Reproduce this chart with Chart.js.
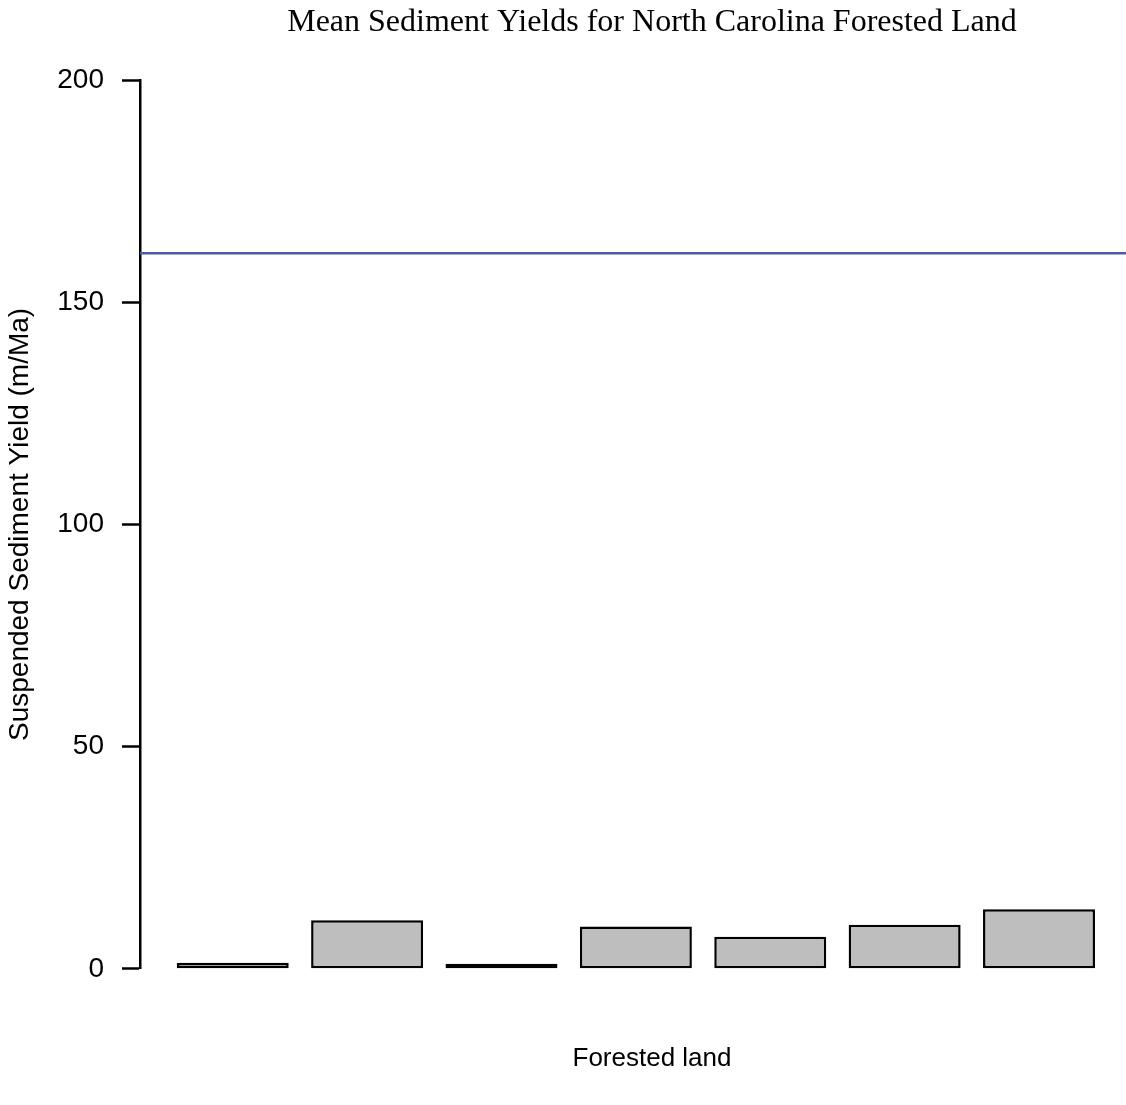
<!DOCTYPE html>
<html>
<head>
<meta charset="utf-8">
<script src="https://cdn.jsdelivr.net/npm/chart.js@4"></script>
<style>
  html, body { margin: 0; padding: 0; background: #fff; overflow: hidden; }
  canvas { display: block; }
</style>
</head>
<body>
<canvas id="myChart1" width="1164" height="1105"></canvas>
<script>
// data
const sites = ['1', '2', '3', '4', '5', '6', '7'];
const sedimentYield = [1.35, 10.9, 1.15, 9.5, 7.2, 9.9, 13.4];
const meanLine = 161;
const yTicks = [0, 50, 100, 150, 200];

// x scale limits like R's barplot (4% extension, space 0.2)
const xMin = 0.31;
const xMax = 7.93;

let myChart1;

function drawChart() {
    const ctx = document.getElementById('myChart1').getContext('2d');
    if (myChart1) {
        myChart1.destroy();
    }

    const barData = sites.map((s, i) => ({ x: i + 1, y: sedimentYield[i] }));
    const lineData = [{ x: xMin, y: meanLine }, { x: xMax, y: meanLine }];

    const config = {
        type: 'bar',
        data: {
            datasets: [{
                type: 'line',
                data: lineData,
                borderColor: '#4b5ca3',
                borderWidth: 2.5,
                pointRadius: 0,
                fill: false,
                clip: false
            }, {
                label: 'Forested land',
                data: barData,
                backgroundColor: '#bebebe',
                borderColor: '#000',
                borderWidth: 2.5,
                borderSkipped: false,
                barPercentage: 1 / 1.2,
                categoryPercentage: 1,
                clip: false
            }]
        },
        options: {
            responsive: false,
            animation: false,
            layout: { padding: { left: 0, right: 0, top: 0, bottom: 31 } },
            scales: {
                x: {
                    type: 'linear',
                    offset: false,
                    min: xMin,
                    max: xMax,
                    // one hidden tick per bar so bar width follows the bar spacing
                    afterBuildTicks: (scale) => {
                        scale.ticks = sites.map((s, i) => ({ value: i + 1 }));
                    },
                    ticks: { display: false },
                    grid: { display: false, drawTicks: false },
                    border: { display: false },
                    title: {
                        display: true,
                        text: 'Forested land',
                        color: '#000',
                        font: { family: 'Liberation Sans, Arial', size: 26 },
                        padding: { top: 74, bottom: 0 }
                    }
                },
                y: {
                    min: 0,
                    max: 200,
                    afterBuildTicks: (scale) => {
                        scale.ticks = yTicks.map(v => ({ value: v }));
                    },
                    afterFit: (scale) => {
                        scale.width = 140;
                    },
                    ticks: {
                        color: '#000',
                        font: { family: 'Liberation Sans, Arial', size: 28 },
                        padding: 18
                    },
                    grid: {
                        display: true,
                        drawOnChartArea: false,
                        drawTicks: true,
                        tickLength: 18,
                        tickColor: '#000',
                        tickWidth: 2.5
                    },
                    border: { display: true, color: '#000', width: 2.5 },
                    title: {
                        display: true,
                        text: 'Suspended Sediment Yield (m/Ma)',
                        color: '#000',
                        font: { family: 'Liberation Sans, Arial', size: 28 },
                        padding: { top: 3, bottom: 0 }
                    }
                }
            },
            plugins: {
                legend: { display: false },
                tooltip: { enabled: false },
                title: {
                    display: true,
                    fullSize: false,
                    text: 'Mean Sediment Yields for North Carolina Forested Land',
                    color: '#000',
                    font: { family: 'Liberation Serif, Times New Roman', size: 32, weight: 'normal' },
                    padding: { top: 3, bottom: 38.6 }
                }
            }
        }
    };

    myChart1 = new Chart(ctx, config);
}

drawChart();
</script>
</body>
</html>
